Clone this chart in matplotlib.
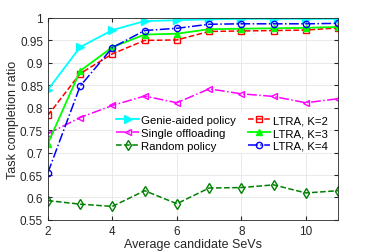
import numpy as np
import matplotlib.pyplot as plt

plt.rcParams['font.family'] = ['Liberation Sans', 'DejaVu Sans']

sevs = [2, 3, 4, 5, 6, 7, 8, 9, 10, 11]
genie = [0.840, 0.935, 0.973, 0.993, 0.995, 0.997, 0.998, 0.998, 0.998, 0.998]
single = [0.742, 0.778, 0.805, 0.826, 0.811, 0.842, 0.831, 0.825, 0.811, 0.820]
random_pol = [0.593, 0.585, 0.580, 0.615, 0.586, 0.621, 0.622, 0.628, 0.610, 0.615]
ltra_k2 = [0.783, 0.876, 0.920, 0.950, 0.951, 0.970, 0.971, 0.972, 0.973, 0.978]
ltra_k3 = [0.720, 0.882, 0.935, 0.963, 0.965, 0.975, 0.976, 0.977, 0.978, 0.980]
ltra_k4 = [0.655, 0.848, 0.934, 0.972, 0.977, 0.986, 0.987, 0.987, 0.987, 0.988]

fig = plt.figure(figsize=(3.74, 2.53), dpi=100)
ax = fig.add_axes([0.128, 0.127, 0.776, 0.798])

ms = 5
ax.plot(sevs, genie, '-', color='#00ffff', marker='>', ms=ms + 0.5, lw=1.3, label='Genie-aided policy')
ax.plot(sevs, single, '-.', color='#ff00ff', marker='<', ms=ms, mfc='none', lw=1.1, label='Single offloading')
ax.plot(sevs, random_pol, '--', color='#008000', marker='d', ms=ms, mfc='none', lw=1.1, label='Random policy')
ax.plot(sevs, ltra_k2, '--', color='#ff0000', marker='s', ms=ms - 1, mfc='none', lw=1.1, label='LTRA, K=2')
ax.plot(sevs, ltra_k3, '-', color='#00ff00', marker='^', ms=ms, lw=1.3, label='LTRA, K=3')
ax.plot(sevs, ltra_k4, '-.', color='#0000ff', marker='o', ms=ms - 0.5, mfc='none', lw=1.1, label='LTRA, K=4')

ax.set_xlim(2, 11)
ax.set_ylim(0.55, 1)
ax.set_xticks([2, 4, 6, 8, 10])
ax.set_yticks(np.arange(0.55, 1.001, 0.05))
ax.set_yticklabels(['0.55', '0.6', '0.65', '0.7', '0.75', '0.8', '0.85', '0.9', '0.95', '1'])
ax.grid(True, color='#e6e6e6', lw=0.6)
ax.set_axisbelow(True)
ax.tick_params(direction='in', top=True, right=True, labelsize=8.5, colors='#262626', length=3)
for s in ax.spines.values():
    s.set_color('#262626')
    s.set_linewidth(0.6)

ax.set_xlabel('Average candidate SeVs', fontsize=9, color='#262626', labelpad=1)
ax.set_ylabel('Task completion ratio', fontsize=9, color='#262626')
ax.yaxis.set_label_coords(-0.1, 0.5)

leg = ax.legend(ncol=2, loc='center', bbox_to_anchor=(0.6, 0.43), fontsize=8.2,
                frameon=True, edgecolor='none', facecolor='white', framealpha=1,
                handlelength=2.0, handletextpad=0.2, columnspacing=1.0,
                labelspacing=0.25, borderpad=0.2, fancybox=False)

fig.savefig('out.png', dpi=100)
